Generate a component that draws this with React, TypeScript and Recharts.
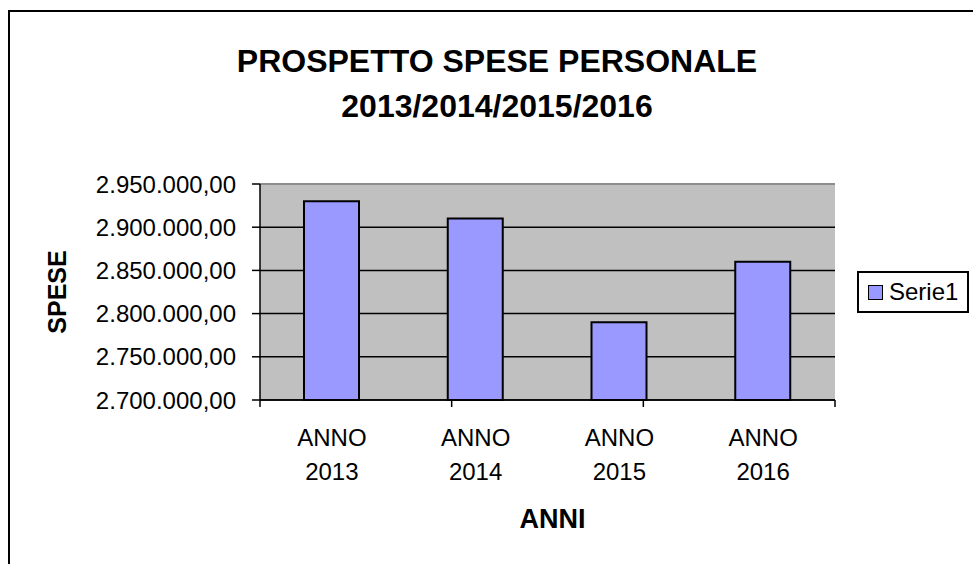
import React from 'react';
import { BarChart, Bar, XAxis, YAxis, CartesianGrid, Legend, ReferenceLine } from 'recharts';

// Data
const categories = ['ANNO 2013', 'ANNO 2014', 'ANNO 2015', 'ANNO 2016'];
const spese = [2930000, 2910000, 2790000, 2860000];
const yTicks = [2700000, 2750000, 2800000, 2850000, 2900000, 2950000];
const edgeTicks = [0, 1, 2, 3, 4];

const data = categories.map((name, i) => ({ name, Serie1: spese[i] }));

const FONT = '"Liberation Sans", Arial, sans-serif';

// 2950000 -> "2.950.000,00"
const fmt = (v: number) =>
  Math.round(v).toString().replace(/\B(?=(\d{3})+(?!\d))/g, '.') + ',00';

const CategoryTick = (props: any) => {
  const { x, y, payload } = props;
  const parts = String(payload.value).split(' ');
  return (
    <text x={x} y={y} textAnchor="middle" fontFamily={FONT} fontSize={24} fill="#000">
      <tspan x={x} dy={38}>{parts[0]}</tspan>
      <tspan x={x} dy={34}>{parts[1]}</tspan>
    </text>
  );
};

const LegendBox = (props: any) => {
  const item = props.payload?.[0];
  return (
    <div
      style={{
        width: 112,
        height: 42,
        boxSizing: 'border-box',
        border: '2px solid #000',
        background: '#fff',
        display: 'flex',
        alignItems: 'center',
        paddingLeft: 9,
        fontFamily: FONT,
        fontSize: 24,
        color: '#000',
      }}
    >
      <span
        style={{
          display: 'inline-block',
          width: 15,
          height: 15,
          boxSizing: 'border-box',
          background: item?.color || '#9999FF',
          border: '1.5px solid #000',
          marginRight: 6,
        }}
      />
      {item?.value || 'Serie1'}
    </div>
  );
};

const App: React.FC = () => {
  return (
    <div
      style={{
        position: 'fixed',
        left: 0,
        top: 0,
        width: 973,
        height: 564,
        overflow: 'hidden',
        background: '#fff',
      }}
    >
      {/* outer chart frame, right and bottom sides are off-screen */}
      <div
        style={{
          position: 'absolute',
          left: 8,
          top: 10,
          width: 2000,
          height: 2000,
          borderLeft: '2px solid #000',
          borderTop: '2px solid #000',
        }}
      />

      <div style={{ position: 'absolute', left: 0, top: 0 }}>
        <BarChart
          width={973}
          height={564}
          data={data}
          margin={{ top: 184, right: 138, left: 48, bottom: 0 }}
        >
          <CartesianGrid
            xAxisId="aEdges"
            vertical={false}
            stroke="#000"
            strokeWidth={1.5}
            fill="#C0C0C0"
            fillOpacity={1}
          />
          <XAxis
            xAxisId="aEdges"
            type="number"
            domain={[0, 4]}
            ticks={edgeTicks}
            height={8}
            tickSize={7}
            tickFormatter={() => ''}
            axisLine={{ stroke: '#000', strokeWidth: 1.5 }}
            tickLine={{ stroke: '#000', strokeWidth: 1.5 }}
          />
          <XAxis
            xAxisId="bCat"
            dataKey="name"
            height={156}
            axisLine={false}
            tickLine={false}
            tickSize={0}
            tickMargin={0}
            tick={<CategoryTick />}
            interval={0}
            label={{
              content: (p: any) => {
                const vb = p.viewBox;
                return (
                  <text
                    x={vb.x + vb.width / 2 + 5}
                    y={vb.y + 120}
                    textAnchor="middle"
                    fontFamily={FONT}
                    fontWeight="bold"
                    fontSize={27}
                    fill="#000"
                  >
                    ANNI
                  </text>
                );
              },
            }}
          />
          <YAxis
            width={212}
            domain={[2700000, 2950000]}
            ticks={yTicks}
            tickFormatter={fmt}
            tickSize={8}
            tickMargin={16}
            tick={{ fontFamily: FONT, fontSize: 24, fill: '#000' }}
            axisLine={{ stroke: '#000', strokeWidth: 1.5 }}
            tickLine={{ stroke: '#000', strokeWidth: 1.5 }}
            label={{
              content: (p: any) => {
                const vb = p.viewBox;
                const cx = vb.x + 9;
                const cy = vb.y + vb.height / 2;
                return (
                  <text
                    x={cx}
                    y={cy}
                    transform={`rotate(-90, ${cx}, ${cy})`}
                    textAnchor="middle"
                    dominantBaseline="central"
                    fontFamily={FONT}
                    fontWeight="bold"
                    fontSize={25}
                    fill="#000"
                  >
                    SPESE
                  </text>
                );
              },
            }}
          />
          <ReferenceLine xAxisId="aEdges" y={2950000} stroke="#8c8c8c" strokeWidth={2} />
          <ReferenceLine xAxisId="aEdges" x={4} stroke="#8c8c8c" strokeWidth={2} />
          <Legend
            layout="horizontal"
            verticalAlign="middle"
            align="right"
            content={<LegendBox />}
            wrapperStyle={{ left: 857, top: 271, width: 0, height: 0, overflow: 'visible' }}
          />
          <Bar
            xAxisId="bCat"
            dataKey="Serie1"
            fill="#9999FF"
            stroke="#000"
            strokeWidth={2}
            barSize={55}
            isAnimationActive={false}
          />
        </BarChart>
      </div>

      {/* chart title */}
      <svg
        width={973}
        height={140}
        style={{ position: 'absolute', left: 0, top: 0, pointerEvents: 'none' }}
      >
        <text x={497} y={72} textAnchor="middle" fontFamily={FONT} fontWeight="bold" fontSize={32} fill="#000">
          PROSPETTO SPESE PERSONALE
        </text>
        <text x={497} y={117} textAnchor="middle" fontFamily={FONT} fontWeight="bold" fontSize={32} fill="#000">
          2013/2014/2015/2016
        </text>
      </svg>
    </div>
  );
};

export default App;
